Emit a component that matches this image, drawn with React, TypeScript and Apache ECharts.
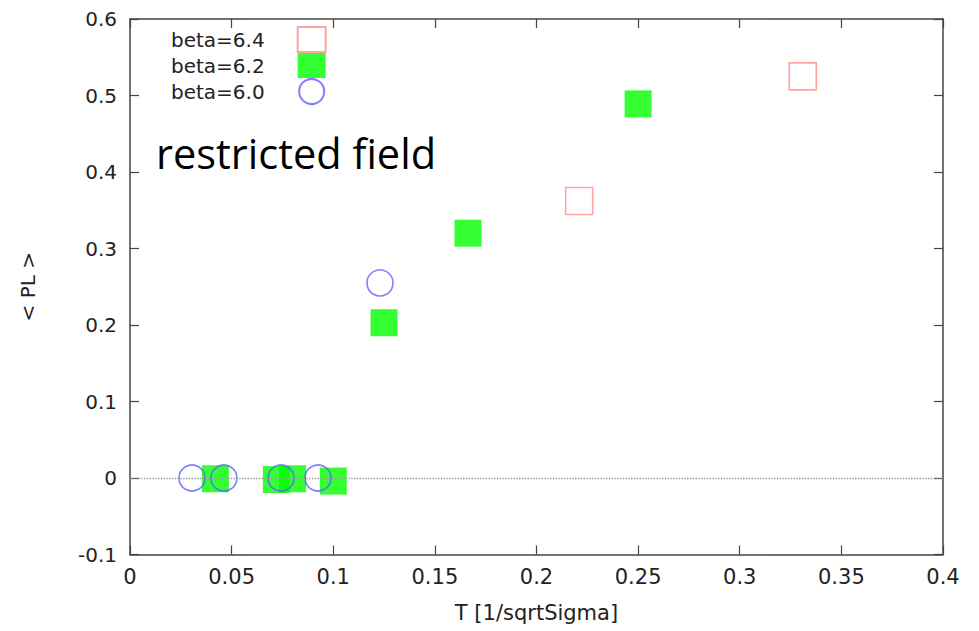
import React, { useEffect, useRef } from "react";
import * as echarts from "echarts";

// Polyakov loop expectation vs temperature, three lattice couplings
const seriesNames = ["beta=6.4", "beta=6.2", "beta=6.0"];

const beta64: [number, number][] = [
  [0.221, 0.362],
  [0.331, 0.525],
];

const beta62: [number, number][] = [
  [0.042, -0.001],
  [0.072, -0.002],
  [0.080, -0.001],
  [0.100, -0.004],
  [0.125, 0.203],
  [0.1663, 0.32],
  [0.25, 0.489],
];

const beta60: [number, number][] = [
  [0.0305, 0.0],
  [0.0462, 0.0],
  [0.0743, 0.0],
  [0.0925, 0.0],
  [0.123, 0.255],
];

const xLabel = "T [1/sqrtSigma]";
const yLabel = "< PL >";
const annotation = "restricted field";

const tickFont = "DejaVu Sans";
const axisColor = "#444";

export default function App() {
  const ref = useRef<HTMLDivElement>(null);

  useEffect(() => {
    if (!ref.current) return;
    const chart = echarts.init(ref.current, undefined, { renderer: "svg" });

    const frameAxis = {
      axisLine: { show: true, onZero: false, lineStyle: { color: axisColor, width: 1.5 } },
      axisTick: { show: true, inside: true, length: 9, lineStyle: { color: axisColor, width: 1.2 } },
      splitLine: { show: false },
    };

    chart.setOption({
      animation: false,
      backgroundColor: "#fff",
      grid: { left: 130, right: 36, top: 19, bottom: 76.5, containLabel: false },
      legend: {
        orient: "vertical",
        align: "right",
        left: 166,
        top: 21,
        itemWidth: 28,
        itemHeight: 25,
        itemGap: 0,
        selectedMode: false,
        data: seriesNames,
        textStyle: {
          fontFamily: tickFont,
          fontSize: 20,
          lineHeight: 21,
          color: "#222",
          padding: [0, 28, 0, 0],
        },
      },
      xAxis: [
        {
          type: "value",
          min: 0,
          max: 0.4,
          interval: 0.05,
          position: "bottom",
          name: xLabel,
          nameLocation: "middle",
          nameGap: 48,
          nameTextStyle: { fontFamily: tickFont, fontSize: 21, color: "#222" },
          axisLabel: { fontFamily: tickFont, fontSize: 21, color: "#222", margin: 12 },
          ...frameAxis,
        },
        {
          type: "value",
          min: 0,
          max: 0.4,
          interval: 0.05,
          position: "top",
          axisLabel: { show: false },
          ...frameAxis,
        },
      ],
      yAxis: [
        {
          type: "value",
          min: -0.1,
          max: 0.6,
          interval: 0.1,
          position: "left",
          name: yLabel,
          nameLocation: "middle",
          nameGap: 92,
          nameTextStyle: { fontFamily: tickFont, fontSize: 20, color: "#222" },
          axisLabel: { fontFamily: tickFont, fontSize: 20, color: "#222", margin: 13 },
          ...frameAxis,
        },
        {
          type: "value",
          min: -0.1,
          max: 0.6,
          interval: 0.1,
          position: "right",
          axisLabel: { show: false },
          ...frameAxis,
        },
      ],
      graphic: [
        {
          type: "text",
          left: 156,
          top: 132,
          style: {
            text: annotation,
            fontFamily: "Open Sans",
            fontSize: 41.5,
            fill: "#000",
          },
        },
      ],
      series: [
        {
          name: seriesNames[0],
          type: "scatter",
          data: beta64,
          symbol: "rect",
          symbolSize: 27,
          itemStyle: { color: "rgba(255,255,255,0)", borderColor: "#ff8c8c", borderWidth: 1.6 },
          markLine: {
            silent: true,
            symbol: "none",
            label: { show: false },
            lineStyle: { color: "#999", type: "dotted", width: 1.4 },
            data: [{ yAxis: 0 }],
          },
        },
        {
          name: seriesNames[1],
          type: "scatter",
          data: beta62,
          symbol: "rect",
          symbolSize: 27,
          itemStyle: { color: "#00ff00", borderColor: "#00ff00", borderWidth: 0 },
        },
        {
          name: seriesNames[2],
          type: "scatter",
          data: beta60,
          symbol: "circle",
          symbolSize: 26,
          itemStyle: { color: "rgba(255,255,255,0)", borderColor: "#6060ff", borderWidth: 1.6 },
        },
      ],
    });

    return () => chart.dispose();
  }, []);

  return (
    <div
      ref={ref}
      style={{ position: "absolute", left: 0, top: 0, width: 979, height: 631 }}
    />
  );
}
